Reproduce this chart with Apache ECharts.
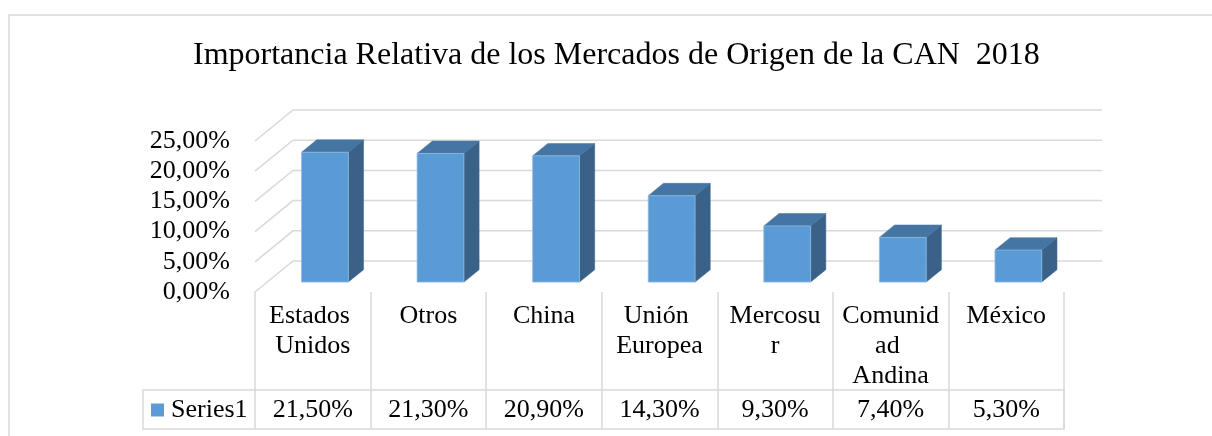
<!DOCTYPE html>
<html>
<head>
<meta charset="utf-8">
<script src="https://cdn.jsdelivr.net/npm/echarts@6/dist/echarts.min.js"></script>
<style>
  html, body { margin: 0; padding: 0; background: #fff; }
  #chart { width: 1212px; height: 436px; }
</style>
</head>
<body>
<div id="chart"></div>
<script>
var categories = ['Estados Unidos', 'Otros', 'China', 'Unión Europea', 'Mercosur', 'Comunidad Andina', 'México'];
var values = [21.5, 21.3, 20.9, 14.3, 9.3, 7.4, 5.3];
var yTicks = [0, 5, 10, 15, 20, 25];
var seriesName = 'Series1';
var titleText = 'Importancia Relativa de los Mercados de Origen de la CAN  2018';

var FONT = "'Liberation Serif', 'Times New Roman', serif";
var GRID_LEFT = 255, GRID_RIGHT = 148, GRID_TOP = 141, GRID_BOTTOM = 144;
var DEPTH = [38, -31];
var gridColor = '#d9d9d9';

function pct(v) {
    return v.toFixed(2).replace('.', ',') + '%';
}

var myChart = echarts.init(document.getElementById('chart'));

// back wall gridlines, with the diagonal from the front edge
function renderWall(params, api) {
    var y = api.coord([0, api.value(1)])[1];
    var left = params.coordSys.x;
    var right = left + params.coordSys.width;
    return {
        type: 'polyline',
        shape: { points: [[left, y], [left + DEPTH[0], y + DEPTH[1]], [right + DEPTH[0], y + DEPTH[1]]] },
        style: { stroke: gridColor, lineWidth: 1.5, fill: null }
    };
}

// 3d column: side, top, front
function renderBar(params, api) {
    var base = api.coord([api.value(0), 0]);
    var top = api.coord([api.value(0), api.value(1)]);
    var w = api.size([1, 0])[0] * 0.405;
    var fx = DEPTH[0] * 0.32, fy = DEPTH[1] * 0.32;
    var sx = DEPTH[0] * 0.4, sy = DEPTH[1] * 0.4;
    var x0 = base[0] - w / 2 + fx, x1 = x0 + w;
    var yb = base[1] + fy, yt = top[1] + fy;
    return {
        type: 'group',
        children: [
            {
                type: 'polygon',
                shape: { points: [[x1, yt], [x1 + sx, yt + sy], [x1 + sx, yb + sy], [x1, yb]] },
                style: { fill: '#3a6289', stroke: '#3a6289', lineWidth: 0.5 }
            },
            {
                type: 'polygon',
                shape: { points: [[x0, yt], [x0 + sx, yt + sy], [x1 + sx, yt + sy], [x1, yt]] },
                style: { fill: '#4575a3', stroke: '#4575a3', lineWidth: 0.5 }
            },
            {
                type: 'rect',
                shape: { x: x0, y: yt, width: w, height: yb - yt },
                style: { fill: '#5b9bd5', stroke: '#8fb9e2', lineWidth: 0.8 }
            }
        ]
    };
}

var tableTop = 436 - GRID_BOTTOM + 98;
var tableBottom = tableTop + 39;

option = {
    backgroundColor: '#fff',
    textStyle: { fontFamily: FONT },
    title: {
        text: titleText,
        left: 193,
        top: 40,
        padding: 0,
        textStyle: { fontFamily: FONT, fontSize: 32, fontWeight: 'normal', color: '#000' }
    },
    legend: {
        data: [seriesName],
        left: 151,
        top: 397,
        padding: 0,
        icon: 'rect',
        itemWidth: 13,
        itemHeight: 13,
        textStyle: { fontFamily: FONT, fontSize: 26, color: '#000', padding: [0, 0, 0, 2] }
    },
    graphic: [
        {
            type: 'rect',
            shape: { x: 9, y: 15, width: 1400, height: 600 },
            style: { fill: 'none', stroke: gridColor, lineWidth: 1.5 },
            silent: true
        },
        {
            type: 'rect',
            shape: { x: GRID_LEFT - 112, y: tableTop, width: 1212 - GRID_RIGHT - GRID_LEFT + 112, height: tableBottom - tableTop },
            style: { fill: 'none', stroke: gridColor, lineWidth: 1.5 },
            silent: true
        }
    ],
    grid: {
        left: GRID_LEFT,
        right: GRID_RIGHT,
        top: GRID_TOP,
        bottom: GRID_BOTTOM,
        containLabel: false
    },
    xAxis: [
        {
            type: 'category',
            data: categories,
            boundaryGap: true,
            axisLine: { show: false },
            axisTick: { show: true, length: 137, lineStyle: { color: gridColor, width: 1.5 } },
            axisLabel: {
                interval: 0,
                margin: 9,
                width: 98,
                overflow: 'break',
                lineHeight: 30,
                fontSize: 26,
                fontFamily: FONT,
                color: '#000',
                align: 'center',
                verticalAlign: 'top'
            },
            splitLine: { show: false }
        },
        {
            type: 'category',
            data: categories,
            position: 'bottom',
            offset: 98,
            boundaryGap: true,
            axisLine: { show: false },
            axisTick: { show: false },
            axisLabel: {
                interval: 0,
                margin: 20,
                fontSize: 26,
                fontFamily: FONT,
                color: '#000',
                verticalAlign: 'middle',
                formatter: function (val, idx) { return pct(values[idx]); }
            }
        }
    ],
    yAxis: {
        type: 'value',
        min: yTicks[0],
        max: yTicks[yTicks.length - 1],
        interval: yTicks[1] - yTicks[0],
        axisLine: { show: false },
        axisTick: { show: false },
        splitLine: { show: false },
        axisLabel: {
            margin: 25,
            fontSize: 26,
            fontFamily: FONT,
            color: '#000',
            formatter: function (v) { return pct(v); }
        }
    },
    series: [
        {
            name: 'walls',
            type: 'custom',
            renderItem: renderWall,
            data: yTicks.map(function (t) { return [0, t]; }),
            encode: { x: 0, y: 1 },
            silent: true,
            z: 1
        },
        {
            name: seriesName,
            type: 'custom',
            renderItem: renderBar,
            itemStyle: { color: '#5b9bd5' },
            data: values.map(function (v, i) { return [i, v]; }),
            encode: { x: 0, y: 1 },
            z: 3
        }
    ]
};

myChart.setOption(option);
</script>
</body>
</html>
